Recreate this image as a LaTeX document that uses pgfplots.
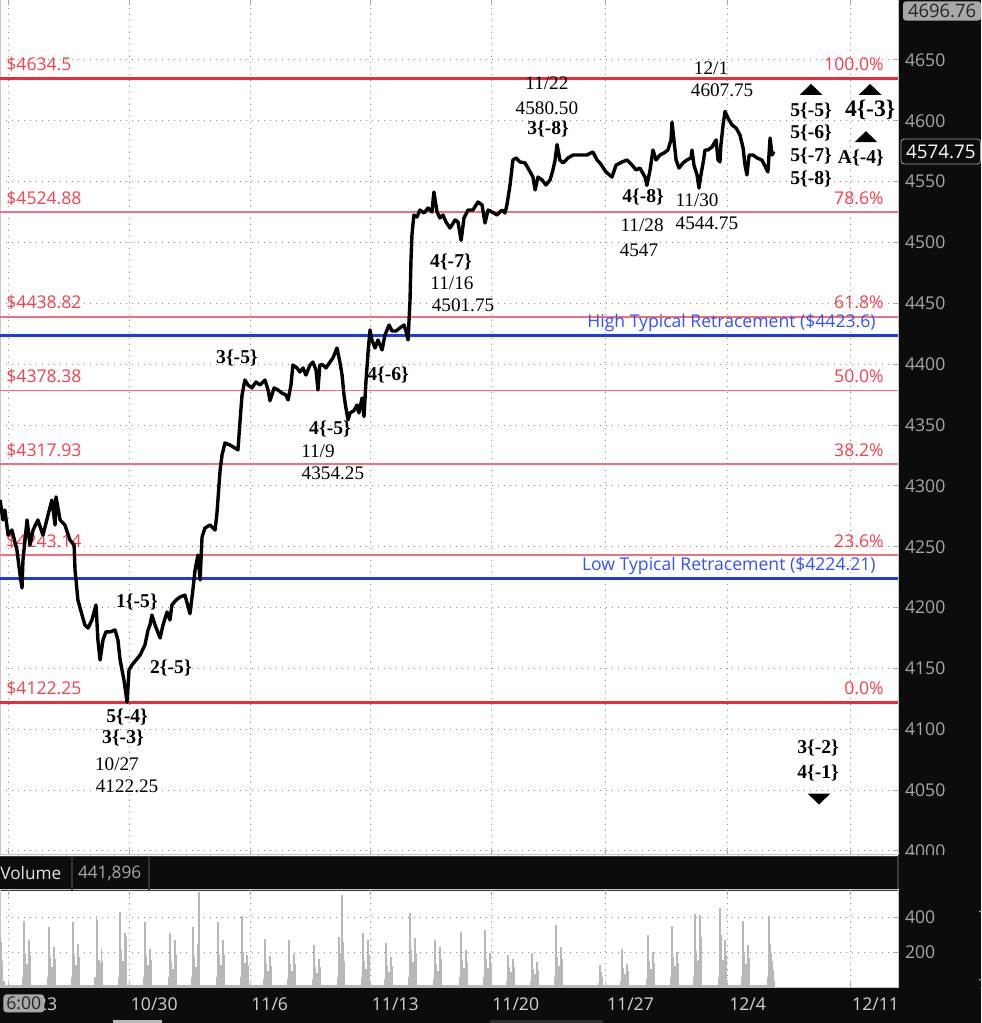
\documentclass[border=0pt]{standalone}
\usepackage{pgfplots}
\pgfplotsset{compat=1.18}
\usepackage{fontspec}
\setmainfont{Liberation Serif}
\newfontfamily\uisans{Open Sans}

\definecolor{fibred}{RGB}{240,40,56}
\definecolor{fibthin}{RGB}{242,112,124}
\definecolor{fibtext}{RGB}{245,64,78}
\definecolor{retblue}{RGB}{28,58,232}
\definecolor{rettext}{RGB}{52,82,250}
\definecolor{volgray}{RGB}{184,184,184}
\definecolor{panel}{RGB}{12,12,12}
\definecolor{ticktext}{RGB}{168,168,168}
\definecolor{gridc}{RGB}{140,140,140}

\newcommand\ann{\fontsize{9.6}{11}\selectfont}
\newcommand\wav{\fontsize{9.8}{11}\selectfont\bfseries}
\newcommand\ui{\uisans\fontsize{8.8}{10}\selectfont}

% x = trading days from the 10/23 session, y = price
\def\dticks{0,5,10,15,20,24.76,29.83,34.93}

\begin{document}
\begin{tikzpicture}
\clip (0pt,0pt) rectangle (490.5pt,511.5pt);
\fill[white] (0pt,0pt) rectangle (490.5pt,511.5pt);
% dark frame pieces
\fill[panel] (449pt,0pt) rectangle (490.5pt,511.5pt);
\fill[panel] (0pt,0pt) rectangle (490.5pt,17.5pt);
\fill[panel, draw=gray!45!black, line width=0.6pt] (-1pt,66.5pt) rectangle (449pt,83.2pt);

% ---------------- volume panel ----------------
\begin{axis}[
  at={(0pt,17.5pt)}, anchor=south west,
  width=449pt, height=49pt, scale only axis,
  xmin=-0.3734, xmax=36.888, ymin=0, ymax=554,
  axis line style={draw=gray!45, line width=0.5pt},
  tick style={draw=gray!70, line width=0.5pt},
  major tick length=2.5pt, tick align=inside,
  xtick/.expanded=\dticks,
  xticklabels={10/23,10/30,11/6,11/13,11/20,11/27,12/4,12/11},
  xtick pos=both,
  xticklabel style={font=\ui, text=gray!35, anchor=west, inner xsep=0.5pt, yshift=-8pt},
  ytick={200,400}, ytick pos=right, yticklabel pos=right,
  yticklabel style={font=\ui, text=ticktext},
  /pgf/number format/assume math mode=true,
  grid=major,
  major grid style={draw=gridc, line width=0.5pt, dash pattern=on 0.55pt off 2.45pt},
]
\addplot[fill=volgray, draw=none] coordinates {(-0.3734,16)(31.76,16)} \closedcycle;
\addplot[ycomb, volgray, line width=0.85pt] coordinates {
(-0.36,290)(-0.31,260)(-0.27,150)(-0.22,40)
(0.57,60)(0.62,379)(0.66,190)(0.71,133)(0.77,133)(0.83,270)(0.87,189)
(1.61,60)(1.66,347)(1.70,174)(1.75,121)(1.81,121)(1.87,232)(1.91,162)
(2.61,60)(2.66,375)(2.70,188)(2.75,131)(2.81,131)(2.87,251)(2.91,176)
(3.58,60)(3.63,408)(3.67,385)(3.72,160)(3.78,140)(3.84,220)(3.88,150)
(4.56,60)(4.61,427)(4.65,214)(4.70,150)(4.76,150)(4.82,309)(4.86,290)
(5.59,60)(5.64,375)(5.68,188)(5.73,131)(5.79,131)(5.85,223)(5.89,156)
(6.63,60)(6.68,309)(6.72,155)(6.77,108)(6.83,108)(6.89,270)(6.93,189)
(7.59,60)(7.64,347)(7.68,174)(7.73,121)(7.79,121)(7.85,250)(7.88,541)(7.91,200)
(8.62,60)(8.67,375)(8.71,188)(8.76,131)(8.82,131)(8.88,270)(8.92,189)
(9.62,60)(9.67,408)(9.71,204)(9.76,143)(9.82,143)(9.88,185)(9.92,130)
(10.57,50)(10.62,276)(10.66,138)(10.71,97)(10.77,97)(10.83,179)(10.87,125)
(11.57,50)(11.62,270)(11.66,135)(11.71,95)(11.77,95)(11.83,194)(11.87,136)
(12.61,50)(12.66,242)(12.70,121)(12.75,85)(12.81,85)(12.87,166)(12.91,116)
(13.65,60)(13.70,290)(13.74,145)(13.78,200)(13.82,528)(13.86,260)(13.91,150)
(14.63,60)(14.68,309)(14.72,155)(14.77,108)(14.83,108)(14.89,270)(14.93,189)
(15.59,50)(15.64,255)(15.68,128)(15.73,89)(15.79,89)(15.85,175)(15.89,123)
(16.59,60)(16.64,423)(16.68,212)(16.73,148)(16.79,148)(16.85,280)(16.89,196)
(17.63,50)(17.68,274)(17.72,137)(17.77,96)(17.83,96)(17.89,232)(17.93,162)
(18.71,60)(18.76,318)(18.80,159)(18.85,111)(18.91,111)(18.97,213)(19.01,149)
(19.70,60)(19.75,328)(19.79,164)(19.84,115)(19.90,115)(19.96,200)(20.00,140)
(20.66,40)(20.71,185)(20.75,120)(20.80,90)(20.86,90)(20.92,166)(20.96,116)
(21.65,40)(21.70,198)(21.74,110)(21.79,80)(21.85,80)(21.91,147)(21.95,103)
(22.65,60)(22.70,356)(22.74,178)(22.79,125)(22.85,125)(22.91,232)(22.95,162)
(24.47,30)(24.52,128)(24.56,90)(24.61,60)
(25.39,40)(25.44,223)(25.48,112)(25.53,78)(25.59,78)(25.65,137)(25.69,96)
(26.47,50)(26.52,299)(26.56,150)(26.61,105)(26.67,105)(26.73,204)(26.77,143)
(27.46,60)(27.51,350)(27.55,175)(27.60,123)(27.66,123)(27.72,204)(27.76,143)
(28.41,60)(28.46,419)(28.50,210)(28.55,150)(28.61,160)(28.67,413)(28.71,290)
(29.45,60)(29.50,451)(29.54,300)(29.59,160)(29.65,158)(29.71,270)(29.75,189)
(30.41,60)(30.46,381)(30.50,190)(30.55,133)(30.61,133)(30.67,242)(30.71,169)
(31.48,60)(31.53,408)(31.57,250)(31.62,200)(31.68,150)(31.72,100)(31.76,40)
};
\end{axis}

% ---------------- price panel ----------------
\begin{scope}
\clip (-1pt,84pt) rectangle (490.5pt,511.5pt);
\begin{axis}[
  at={(0pt,84pt)}, anchor=south west,
  width=449pt, height=427.5pt, scale only axis,
  xmin=-0.3734, xmax=36.888, ymin=3996.7, ymax=4699.3,
  axis line style={draw=gray!45, line width=0.5pt},
  tick style={draw=gray!70, line width=0.5pt},
  major tick length=2.5pt, tick align=inside,
  xtick/.expanded=\dticks, xticklabel={}, xtick pos=both,
  ytick={4000,4050,...,4650}, ytick pos=right, yticklabel pos=right,
  yticklabel style={font=\ui, text=ticktext},
  /pgf/number format/assume math mode=true,
  /pgf/number format/set thousands separator={},
  grid=major,
  major grid style={draw=gridc, line width=0.5pt, dash pattern=on 0.55pt off 2.45pt},
]
% Fibonacci levels
\addplot[fibred, line width=1.6pt] coordinates {(-0.3734,4634.5)(36.888,4634.5)};
\addplot[fibthin, line width=0.9pt] coordinates {(-0.3734,4524.88)(36.888,4524.88)};
\addplot[fibthin, line width=0.9pt] coordinates {(-0.3734,4438.82)(36.888,4438.82)};
\addplot[fibthin, line width=0.9pt] coordinates {(-0.3734,4378.38)(36.888,4378.38)};
\addplot[fibthin, line width=0.9pt] coordinates {(-0.3734,4317.93)(36.888,4317.93)};
\addplot[fibthin, line width=0.9pt] coordinates {(-0.3734,4243.14)(36.888,4243.14)};
\addplot[fibred, line width=1.6pt] coordinates {(-0.3734,4122.25)(36.888,4122.25)};
\addplot[retblue, line width=1.5pt] coordinates {(-0.3734,4423.6)(36.888,4423.6)};
\addplot[retblue, line width=1.5pt] coordinates {(-0.3734,4224.21)(36.888,4224.21)};

\foreach \v/\l/\p in {4634.5/4634.5/100.0, 4524.88/4524.88/78.6, 4438.82/4438.82/61.8,
  4378.38/4378.38/50.0, 4317.93/4317.93/38.2, 4243.14/4243.14/23.6, 4122.25/4122.25/0.0}{
  \edef\tmp{\noexpand\node[anchor=base west, text=fibtext, font=\noexpand\ui, inner sep=0pt]
    at ([xshift=3pt,yshift=4pt]axis cs:-0.3734,\v) {\noexpand\$\l};
  \noexpand\node[anchor=base east, text=fibtext, font=\noexpand\ui, inner sep=0pt]
    at ([xshift=-7pt,yshift=4pt]axis cs:36.888,\v) {\p\noexpand\%};}
  \tmp
}
\node[anchor=base east, text=rettext, font=\ui, inner sep=0pt]
  at ([xshift=-11pt,yshift=4pt]axis cs:36.888,4423.6) {High Typical Retracement (\$4423.6)};
\node[anchor=base east, text=rettext, font=\ui, inner sep=0pt]
  at ([xshift=-11pt,yshift=4pt]axis cs:36.888,4224.21) {Low Typical Retracement (\$4224.21)};

% price
\addplot[black, line width=1.7pt, line join=round] coordinates {
(-0.37,4288.4)(-0.25,4272.0)(-0.17,4280.2)(-0.04,4259.6)(0.12,4263.8)(0.33,4247.3)
(0.46,4226.8)(0.54,4216.1)(0.58,4239.1)(0.75,4272.0)(0.87,4251.4)(1.00,4263.8)
(1.20,4272.0)(1.41,4259.6)(1.62,4276.1)(1.78,4288.4)(1.91,4267.9)(1.95,4291.0)
(2.12,4272.0)(2.32,4267.9)(2.53,4255.5)(2.70,4251.4)(2.74,4230.9)(2.86,4206.2)
(3.03,4193.9)(3.15,4185.7)(3.28,4183.2)(3.44,4189.8)(3.61,4202.1)(3.69,4173.4)
(3.78,4156.9)(3.90,4173.4)(4.02,4180.0)(4.19,4180.0)(4.40,4181.6)(4.52,4173.4)
(4.61,4156.9)(4.77,4140.5)(4.90,4122.25)(4.98,4148.7)(5.10,4152.8)(5.27,4156.9)
(5.44,4161.0)(5.64,4169.3)(5.77,4181.6)(5.85,4185.7)(5.93,4193.9)(6.06,4185.7)
(6.27,4175.0)(6.39,4185.7)(6.56,4196.4)(6.68,4189.8)(6.76,4202.1)(6.93,4206.2)
(7.10,4208.7)(7.30,4210.3)(7.51,4195.0)(7.63,4214.5)(7.72,4230.9)(7.84,4243.2)
(7.93,4222.7)(8.01,4258.0)(8.13,4265.4)(8.34,4267.9)(8.55,4263.8)(8.63,4277.7)
(8.76,4313.1)(8.84,4325.4)(8.96,4335.3)(9.17,4333.6)(9.38,4331.1)(9.50,4329.5)
(9.59,4354.2)(9.67,4374.7)(9.79,4387.0)(9.92,4382.9)(10.08,4380.5)(10.25,4385.4)
(10.41,4382.9)(10.62,4387.0)(10.75,4378.8)(10.83,4370.0)(11.00,4380.5)(11.16,4378.8)
(11.33,4376.3)(11.49,4374.7)(11.58,4370.6)(11.70,4382.9)(11.78,4399.4)(11.95,4396.9)
(12.07,4393.6)(12.20,4396.9)(12.32,4391.1)(12.49,4399.4)(12.61,4401.8)(12.74,4395.3)
(12.82,4378.8)(12.90,4399.4)(13.03,4399.4)(13.15,4396.9)(13.32,4401.8)(13.44,4405.1)
(13.61,4413.3)(13.73,4401.8)(13.82,4391.1)(13.90,4374.7)(13.98,4364.0)(14.07,4354.25)
(14.15,4359.9)(14.32,4362.0)(14.44,4366.5)(14.52,4360.0)(14.65,4372.2)(14.73,4357.0)
(14.81,4385.4)(14.90,4410.0)(14.98,4428.1)(15.06,4419.9)(15.19,4413.3)(15.31,4419.9)
(15.48,4411.7)(15.60,4424.0)(15.77,4432.2)(15.89,4427.3)(16.06,4427.3)(16.22,4429.8)
(16.39,4432.2)(16.47,4427.3)(16.56,4419.9)(16.64,4452.8)(16.68,4485.6)(16.72,4506.2)
(16.80,4522.6)(16.93,4521.0)(17.05,4526.7)(17.22,4524.3)(17.39,4528.4)(17.55,4525.1)
(17.63,4541.5)(17.76,4525.1)(17.88,4520.2)(18.01,4522.6)(18.13,4516.9)(18.30,4511.9)
(18.51,4518.5)(18.63,4516.9)(18.76,4501.75)(18.88,4520.2)(19.05,4526.7)(19.25,4526.7)
(19.46,4533.3)(19.63,4530.8)(19.75,4516.0)(19.88,4526.7)(20.04,4525.1)(20.25,4522.6)
(20.46,4526.7)(20.58,4524.3)(20.66,4530.8)(20.79,4547.3)(20.91,4567.8)(21.04,4569.5)
(21.20,4566.2)(21.41,4565.4)(21.58,4559.6)(21.74,4553.8)(21.83,4543.2)(21.95,4553.8)
(22.12,4551.4)(22.28,4547.3)(22.45,4551.4)(22.57,4559.6)(22.66,4567.8)(22.74,4580.5)
(22.86,4567.8)(22.99,4565.4)(23.20,4569.5)(23.40,4571.9)(23.69,4571.9)(23.98,4571.9)
(24.23,4574.4)(24.40,4567.8)(24.52,4565.4)(24.77,4558.0)(25.02,4553.8)(25.19,4563.7)
(25.44,4566.2)(25.64,4567.8)(25.85,4563.7)(26.02,4559.6)(26.18,4561.2)(26.39,4553.8)
(26.47,4547.0)(26.60,4559.6)(26.72,4576.0)(26.85,4567.8)(27.01,4571.9)(27.18,4573.6)
(27.34,4576.0)(27.47,4584.3)(27.51,4599.0)(27.59,4584.3)(27.68,4567.8)(27.80,4561.2)
(27.97,4565.4)(28.13,4567.8)(28.30,4569.5)(28.34,4576.0)(28.42,4563.7)(28.55,4555.5)
(28.63,4544.75)(28.71,4555.5)(28.80,4565.4)(28.88,4576.0)(29.00,4576.0)(29.17,4578.5)
(29.34,4584.3)(29.42,4567.8)(29.50,4566.2)(29.54,4580.1)(29.63,4596.6)(29.71,4607.75)
(29.83,4602.3)(30.00,4596.6)(30.17,4594.1)(30.33,4588.4)(30.46,4577.7)(30.54,4563.7)
(30.62,4555.5)(30.71,4571.9)(30.87,4571.9)(31.04,4569.5)(31.24,4567.8)(31.41,4561.2)
(31.49,4558.0)(31.58,4585.9)(31.66,4571.9)(31.74,4574.75)
};

% wave annotations
\node[font=\ann] at (axis cs:22.32,4631.1) {11/22};
\node[font=\ann] at (axis cs:22.32,4610.6) {4580.50};
\node[font=\wav] at (axis cs:22.37,4593.3) {3\{-8\}};
\node[font=\ann] at (axis cs:29.13,4643.4) {12/1};
\node[font=\ann] at (axis cs:29.59,4625.3) {4607.75};
\node[font=\wav] at (axis cs:33.28,4608.1) {5\{-5\}};
\node[font=\wav] at (axis cs:33.28,4590.0) {5\{-6\}};
\node[font=\wav] at (axis cs:33.28,4571.1) {5\{-7\}};
\node[font=\wav] at (axis cs:33.28,4552.2) {5\{-8\}};
\node[font=\fontsize{11.8}{13}\selectfont\bfseries] at (axis cs:35.73,4608.9) {4\{-3\}};
\node[font=\wav] at (axis cs:35.35,4569.5) {A\{-4\}};
\fill (axis cs:33.28,4625.8) ++(-5.7pt,-2.75pt) -- ++(11.4pt,0pt) -- ++(-5.7pt,5.5pt) -- cycle;
\fill (axis cs:35.73,4625.8) ++(-5.7pt,-2.75pt) -- ++(11.4pt,0pt) -- ++(-5.7pt,5.5pt) -- cycle;
\fill (axis cs:35.56,4587.0) ++(-5.7pt,-2.75pt) -- ++(11.4pt,0pt) -- ++(-5.7pt,5.5pt) -- cycle;
\node[font=\wav] at (axis cs:26.31,4537.4) {4\{-8\}};
\node[font=\ann] at (axis cs:26.27,4514.4) {11/28};
\node[font=\ann] at (axis cs:26.14,4493.9) {4547};
\node[font=\ann] at (axis cs:28.55,4534.9) {11/30};
\node[font=\ann] at (axis cs:28.96,4516.0) {4544.75};
\node[font=\wav] at (axis cs:18.34,4484.0) {4\{-7\}};
\node[font=\ann] at (axis cs:18.38,4466.7) {11/16};
\node[font=\ann] at (axis cs:18.84,4448.7) {4501.75};
\node[font=\wav] at (axis cs:9.46,4405.1) {3\{-5\}};
\node[font=\wav] at (axis cs:15.73,4391.1) {4\{-6\}};
\node[font=\wav] at (axis cs:13.32,4346.7) {4\{-5\}};
\node[font=\ann] at (axis cs:12.82,4328.7) {11/9};
\node[font=\ann] at (axis cs:13.44,4310.6) {4354.25};
\node[font=\wav] at (axis cs:5.31,4204.6) {1\{-5\}};
\node[font=\wav] at (axis cs:6.72,4150.4) {2\{-5\}};
\node[font=\wav] at (axis cs:4.90,4110.1) {5\{-4\}};
\node[font=\wav] at (axis cs:4.73,4092.8) {3\{-3\}};
\node[font=\ann] at (axis cs:4.48,4071.4) {10/27};
\node[font=\ann] at (axis cs:4.90,4053.4) {4122.25};
\node[font=\wav] at (axis cs:33.57,4084.6) {3\{-2\}};
\node[font=\wav] at (axis cs:33.57,4064.1) {4\{-1\}};
\fill (axis cs:33.61,4042.7) ++(-5.7pt,2.75pt) -- ++(11.4pt,0pt) -- ++(-5.7pt,-5.5pt) -- cycle;

% where the last price sits on the scale
\coordinate (lastpx) at (axis cs:36.888,4574.75);
\end{axis}
\end{scope}

% last-price flag, header flag, status bar, bottom strip
\node[anchor=west, fill=panel, draw=gray!75, rounded corners=1.5pt, text=white,
  font=\uisans\fontsize{9.4}{10}\selectfont,
  inner xsep=2.5pt, inner ysep=2.8pt] at ([xshift=1.3pt]lastpx) {4574.75};
\node[anchor=north west, fill=ticktext, rounded corners=1.5pt, text=black!85,
  font=\uisans\fontsize{9.2}{10}\selectfont,
  inner xsep=2.5pt, inner ysep=1.4pt] at (451.3pt,511pt) {4696.76};
\draw[gray!40!black, line width=0.6pt] (36pt,66.5pt) -- (36pt,83.2pt);
\draw[gray!40!black, line width=0.6pt] (74.5pt,66.5pt) -- (74.5pt,83.2pt);
\node[anchor=west, inner sep=0pt, text=white!90!black, font=\uisans\fontsize{8.6}{10}\selectfont]
  at (0pt,74.8pt) {Volume};
\node[anchor=west, inner sep=0pt, text=ticktext, font=\uisans\fontsize{8.6}{10}\selectfont]
  at (38.8pt,74.8pt) {441,896};
\node[anchor=west, fill=ticktext, rounded corners=1.5pt, text=black!85, font=\ui,
  inner xsep=1.5pt, inner ysep=1.2pt] at (1.5pt,9.8pt) {6:00};
\node[rotate=90, text=ticktext, font=\ui] at (493pt,39pt) {thousands};
\fill[gray!55] (56.5pt,0pt) rectangle (81pt,1.3pt);
\fill[gray!35!black] (245pt,0pt) rectangle (301.5pt,1.3pt);
\end{tikzpicture}
\end{document}
